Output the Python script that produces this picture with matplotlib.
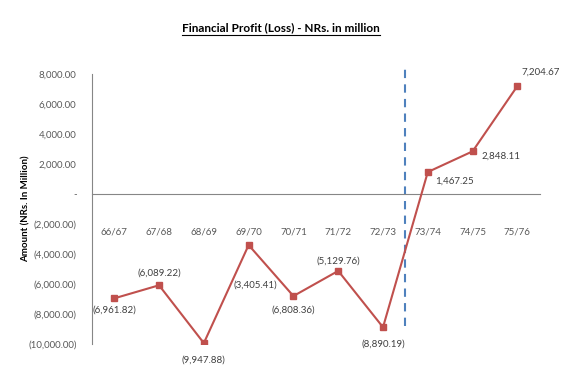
import matplotlib
matplotlib.use("Agg")
import matplotlib.pyplot as plt
from matplotlib.ticker import FuncFormatter
from matplotlib.lines import Line2D

years = ["66/67", "67/68", "68/69", "69/70", "70/71", "71/72", "72/73", "73/74", "74/75", "75/76"]
profit = [-6961.82, -6089.22, -9947.88, -3405.41, -6808.36, -5129.76, -8890.19, 1467.25, 2848.11, 7204.67]
# label offsets (px) for each data label
label_offsets = [(0, -12), (0, 12), (0, -17), (7, -40), (0, -14), (0, 10), (0, -17), (27, -9), (28, -5), (23, 14)]

plt.rcParams['font.family'] = ['Lato', 'DejaVu Sans']

fig = plt.figure(figsize=(5.67, 3.67), dpi=100)
ax = fig.add_axes([0.162, 0.063, 0.79, 0.735])

x = list(range(len(years)))
ax.plot(x, profit, color='#C0504D', lw=1.5, marker='s', ms=4.5, zorder=3)

# dashed separator between 72/73 and 73/74
ax.plot([6.5, 6.5], [-8800, 8600], color='#4F81BD', lw=1.5, ls=(0, (4, 3)), zorder=2, clip_on=False)


def fmt_num(v):
    if v == 0:
        return "-"
    if v < 0:
        return "({:,.2f})".format(-v)
    return "{:,.2f}".format(v)


for xi, v, off in zip(x, profit, label_offsets):
    ax.annotate(fmt_num(v), (xi, v), xytext=(off[0] * 0.72, off[1] * 0.72), textcoords='offset points',
                ha='center', va='center', fontsize=7, color='#404040')

ax.set_xlim(-0.5, 9.5)
ax.set_ylim(-10000, 8000)
ax.set_yticks(range(-10000, 8001, 2000))
ax.yaxis.set_major_formatter(FuncFormatter(lambda v, p: fmt_num(v)))
ax.set_xticks(x)
ax.set_xticklabels(years)

for s in ['top', 'right']:
    ax.spines[s].set_visible(False)
ax.spines['bottom'].set_position(('data', 0))
ax.spines['left'].set_color('#868686')
ax.spines['bottom'].set_color('#868686')
ax.tick_params(axis='y', length=0, pad=11, labelsize=7, labelcolor='#595959')
ax.tick_params(axis='x', length=0, pad=24, labelsize=7, labelcolor='#595959')

ax.set_ylabel("Amount (NRs. In Million)", fontsize=7, fontweight='bold', labelpad=-2)

title = fig.text(0.496, 0.924, "Financial Profit (Loss) - NRs. in million", ha='center', va='center',
                 fontsize=8.5, fontweight='bold')
fig.canvas.draw()
bb = title.get_window_extent().transformed(fig.transFigure.inverted())
fig.add_artist(Line2D([bb.x0, bb.x1], [bb.y0 - 0.004, bb.y0 - 0.004], color='black', lw=0.8,
                      transform=fig.transFigure))

fig.savefig("out.png", dpi=100)
